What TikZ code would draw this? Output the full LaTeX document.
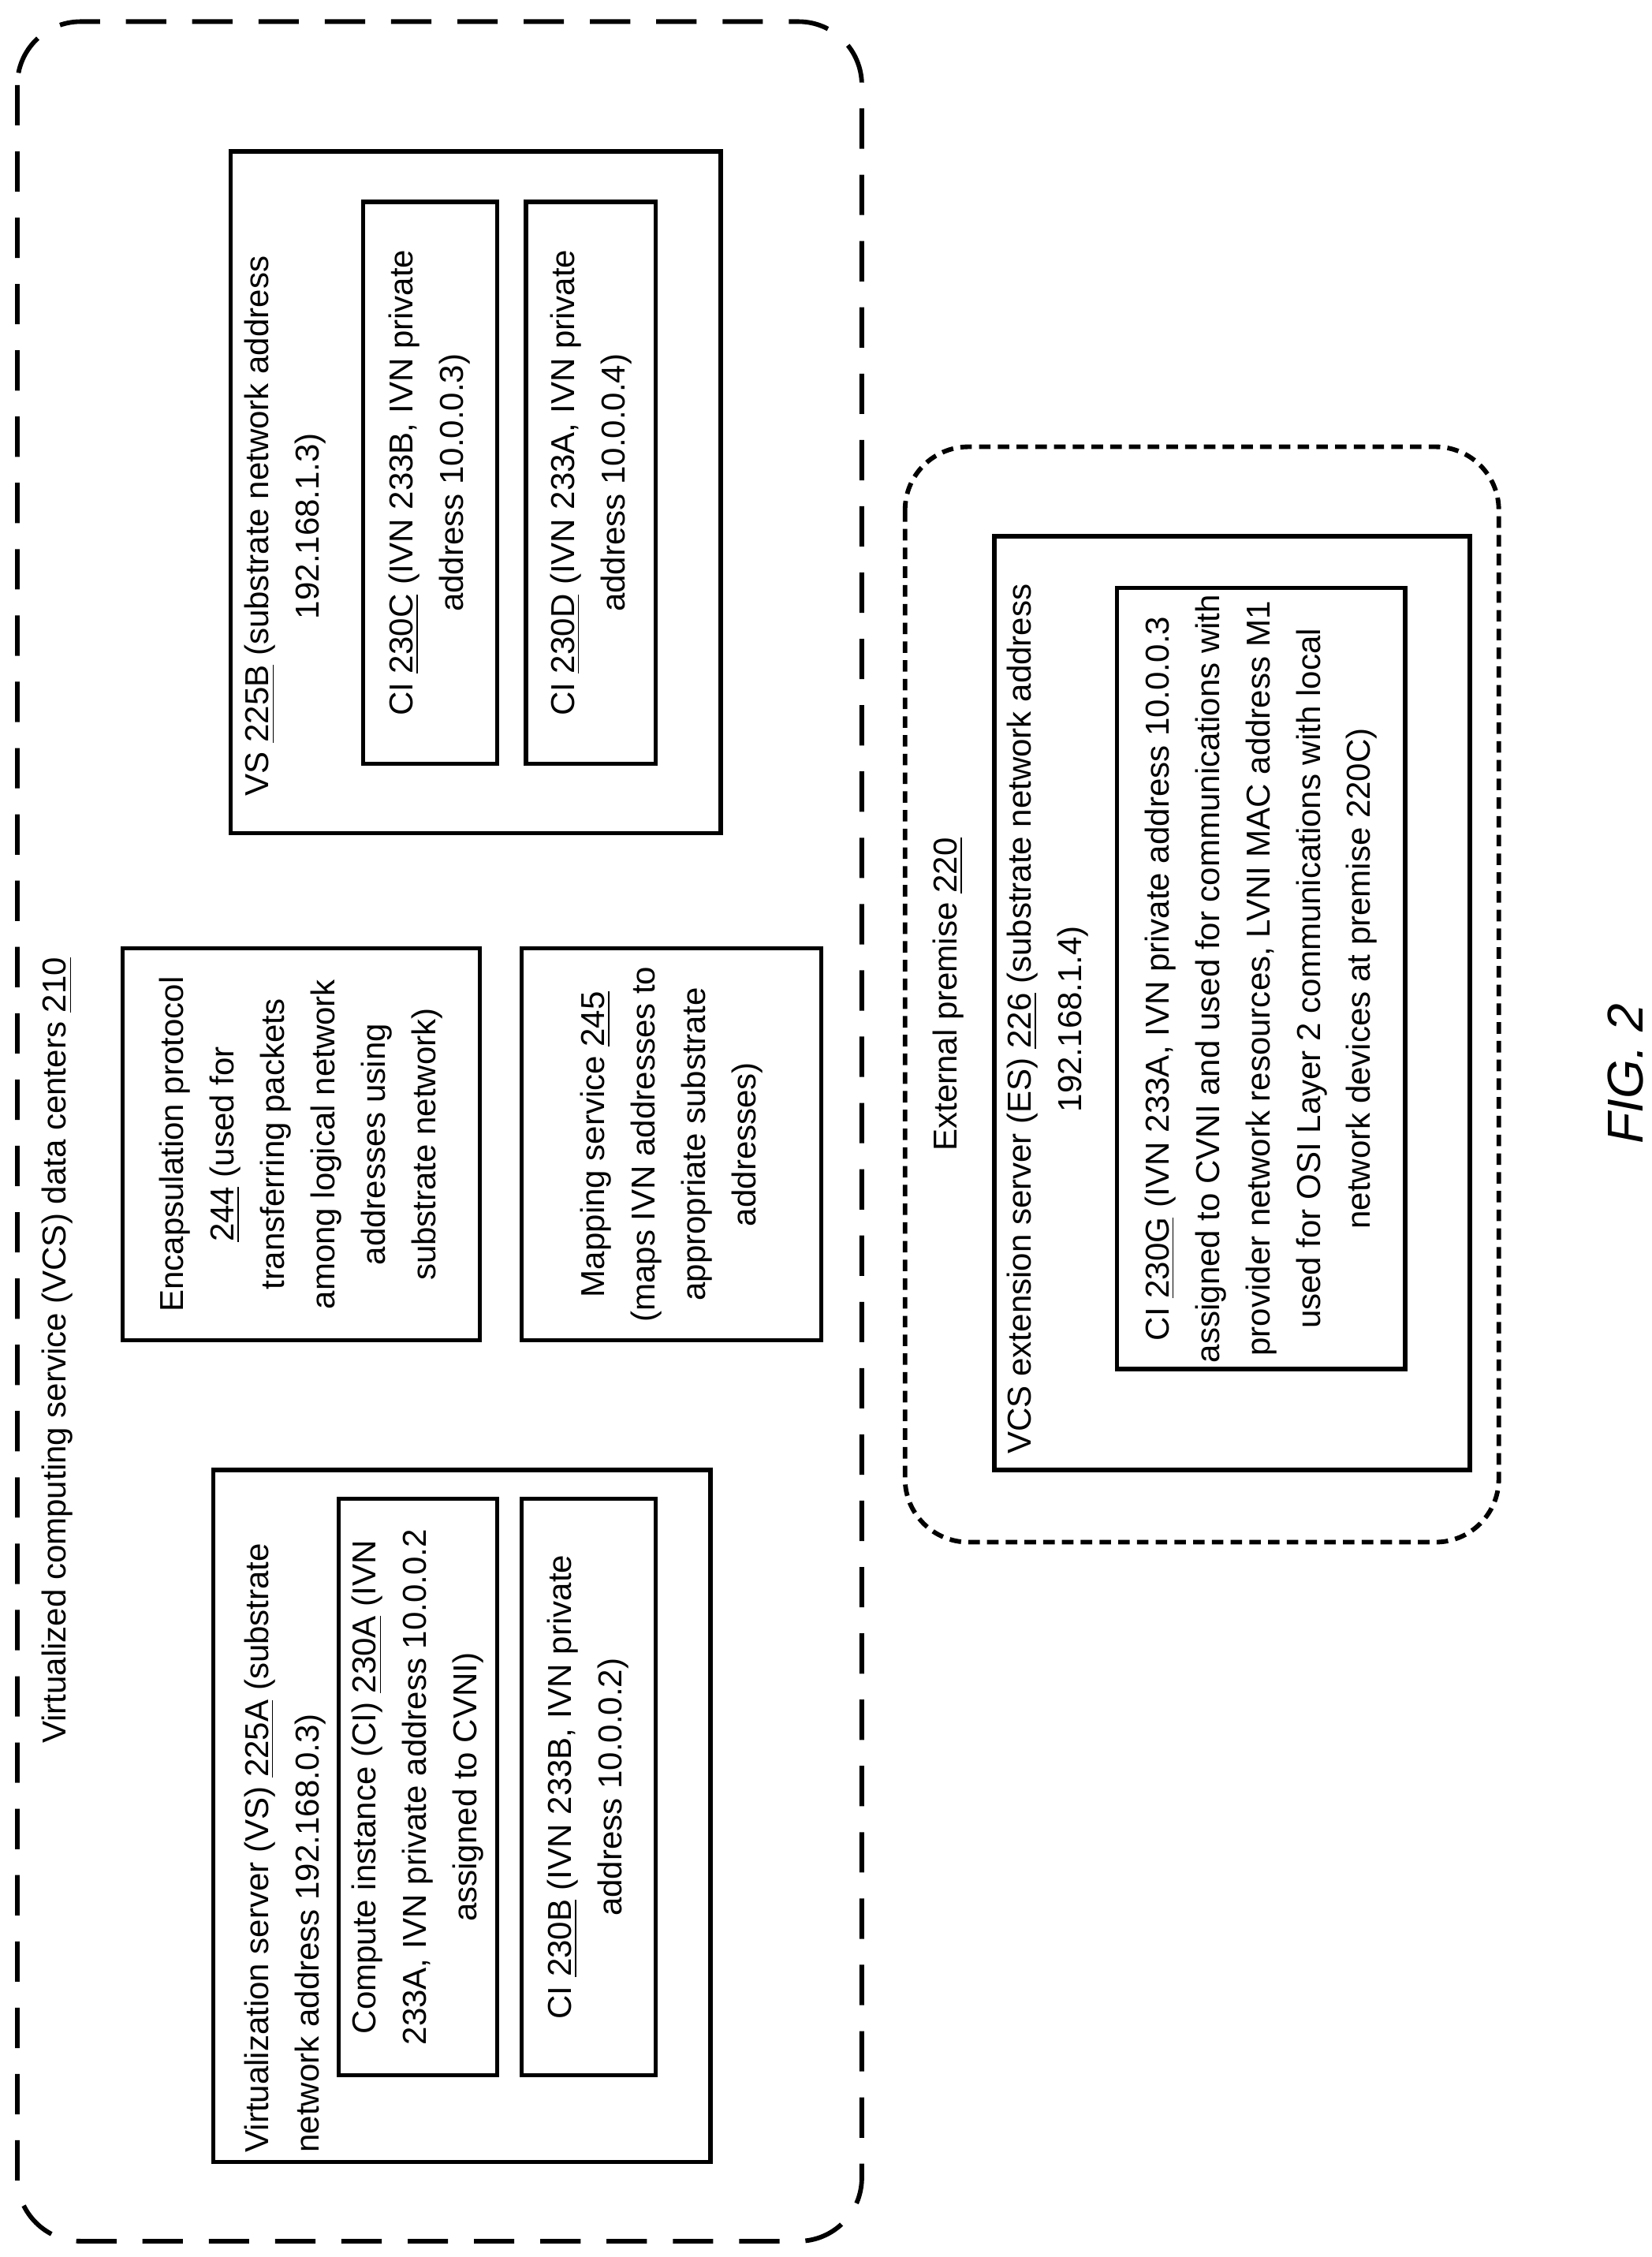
\documentclass[tikz,border=0pt]{standalone}
\usepackage{fontspec}
\setmainfont{Liberation Sans}
\tikzset{every picture/.style={line width=1.5pt}}
\tikzset{
  box/.style={draw=black, line width=1.5pt},
  txt/.style={rotate=90, inner sep=0pt, font=\fontsize{11.5}{17.5}\selectfont},
}

\begin{document}
\begin{tikzpicture}[x=0.5pt,y=0.5pt,yscale=-1,xscale=1]
\useasboundingbox (0,0) rectangle (1146,1566);

%Shape: outer data centers
\draw [line width=1.6pt, dash pattern=on 14pt off 9pt, rounded corners=22pt] (12,15) rectangle (598,1555);
% Text Node
\node (dcLabel) [txt] at (40,937) {Virtualized computing service (VCS) data centers \underline{210}};

%Shape: VS 225B
\draw [box] (160,105) rectangle (500,578);
\node (vsB) [txt, align=center] at (198,365) {VS \underline{225B} (substrate network address\\192.168.1.3)};
\draw [box] (252,140) rectangle (345,530);
\node (ciC) [txt, align=center] at (298,335) {CI \underline{230C} (IVN 233B, IVN private\\address 10.0.0.3)};
\draw [box] (365,140) rectangle (455,530);
\node (ciD) [txt, align=center] at (410,335) {CI \underline{230D} (IVN 233A, IVN private\\address 10.0.0.4)};

%Shape: encapsulation and mapping
\draw [box] (85,658) rectangle (333,930);
\node (encap) [txt, align=center] at (209,794) {Encapsulation protocol\\\underline{244} (used for\\transferring packets\\among logical network\\addresses using\\substrate network)};
\draw [box] (362,658) rectangle (570,930);
\node (mapSvc) [txt, align=center] at (466,794) {Mapping service \underline{245}\\(maps IVN addresses to\\appropriate substrate\\addresses)};

%Shape: VS 225A
\draw [box] (148,1020) rectangle (493,1500);
\node (vsA) [txt, align=left, anchor=north west] at (168,1495) {Virtualization server (VS) \underline{225A} (substrate\\network address 192.168.0.3)};
\draw [box] (235,1040) rectangle (345,1440);
\node (ciA) [txt, align=center] at (290,1240) {Compute instance (CI) \underline{230A} (IVN\\233A, IVN private address 10.0.0.2\\assigned to CVNI)};
\draw [box] (362,1040) rectangle (455,1440);
\node (ciB) [txt, align=center] at (408,1240) {CI \underline{230B} (IVN 233B, IVN private\\address 10.0.0.2)};

%Shape: external premise
\draw [line width=1.6pt, dash pattern=on 4pt off 2.5pt, rounded corners=22pt] (628,310) rectangle (1040,1070);
\node (epLabel) [txt] at (658,690) {External premise \underline{220}};
\draw [box] (690,372) rectangle (1020,1020);
\node (esrv) [txt, align=center] at (727,707) {VCS extension server (ES) \underline{226} (substrate network address\\192.168.1.4)};
\draw [box] (775,408) rectangle (975,950);
\node (ciG) [txt, align=center] at (875,679) {CI \underline{230G} (IVN 233A, IVN private address 10.0.0.3\\assigned to CVNI and used for communications with\\provider network resources, LVNI MAC address M1\\used for OSI Layer 2 communications with local\\network devices at premise 220C)};

% Text Node
\node (fig) [rotate=90, inner sep=0pt, font=\fontsize{17.5}{20}\selectfont\itshape] at (1128,745) {FIG. 2};
\end{tikzpicture}
\end{document}
